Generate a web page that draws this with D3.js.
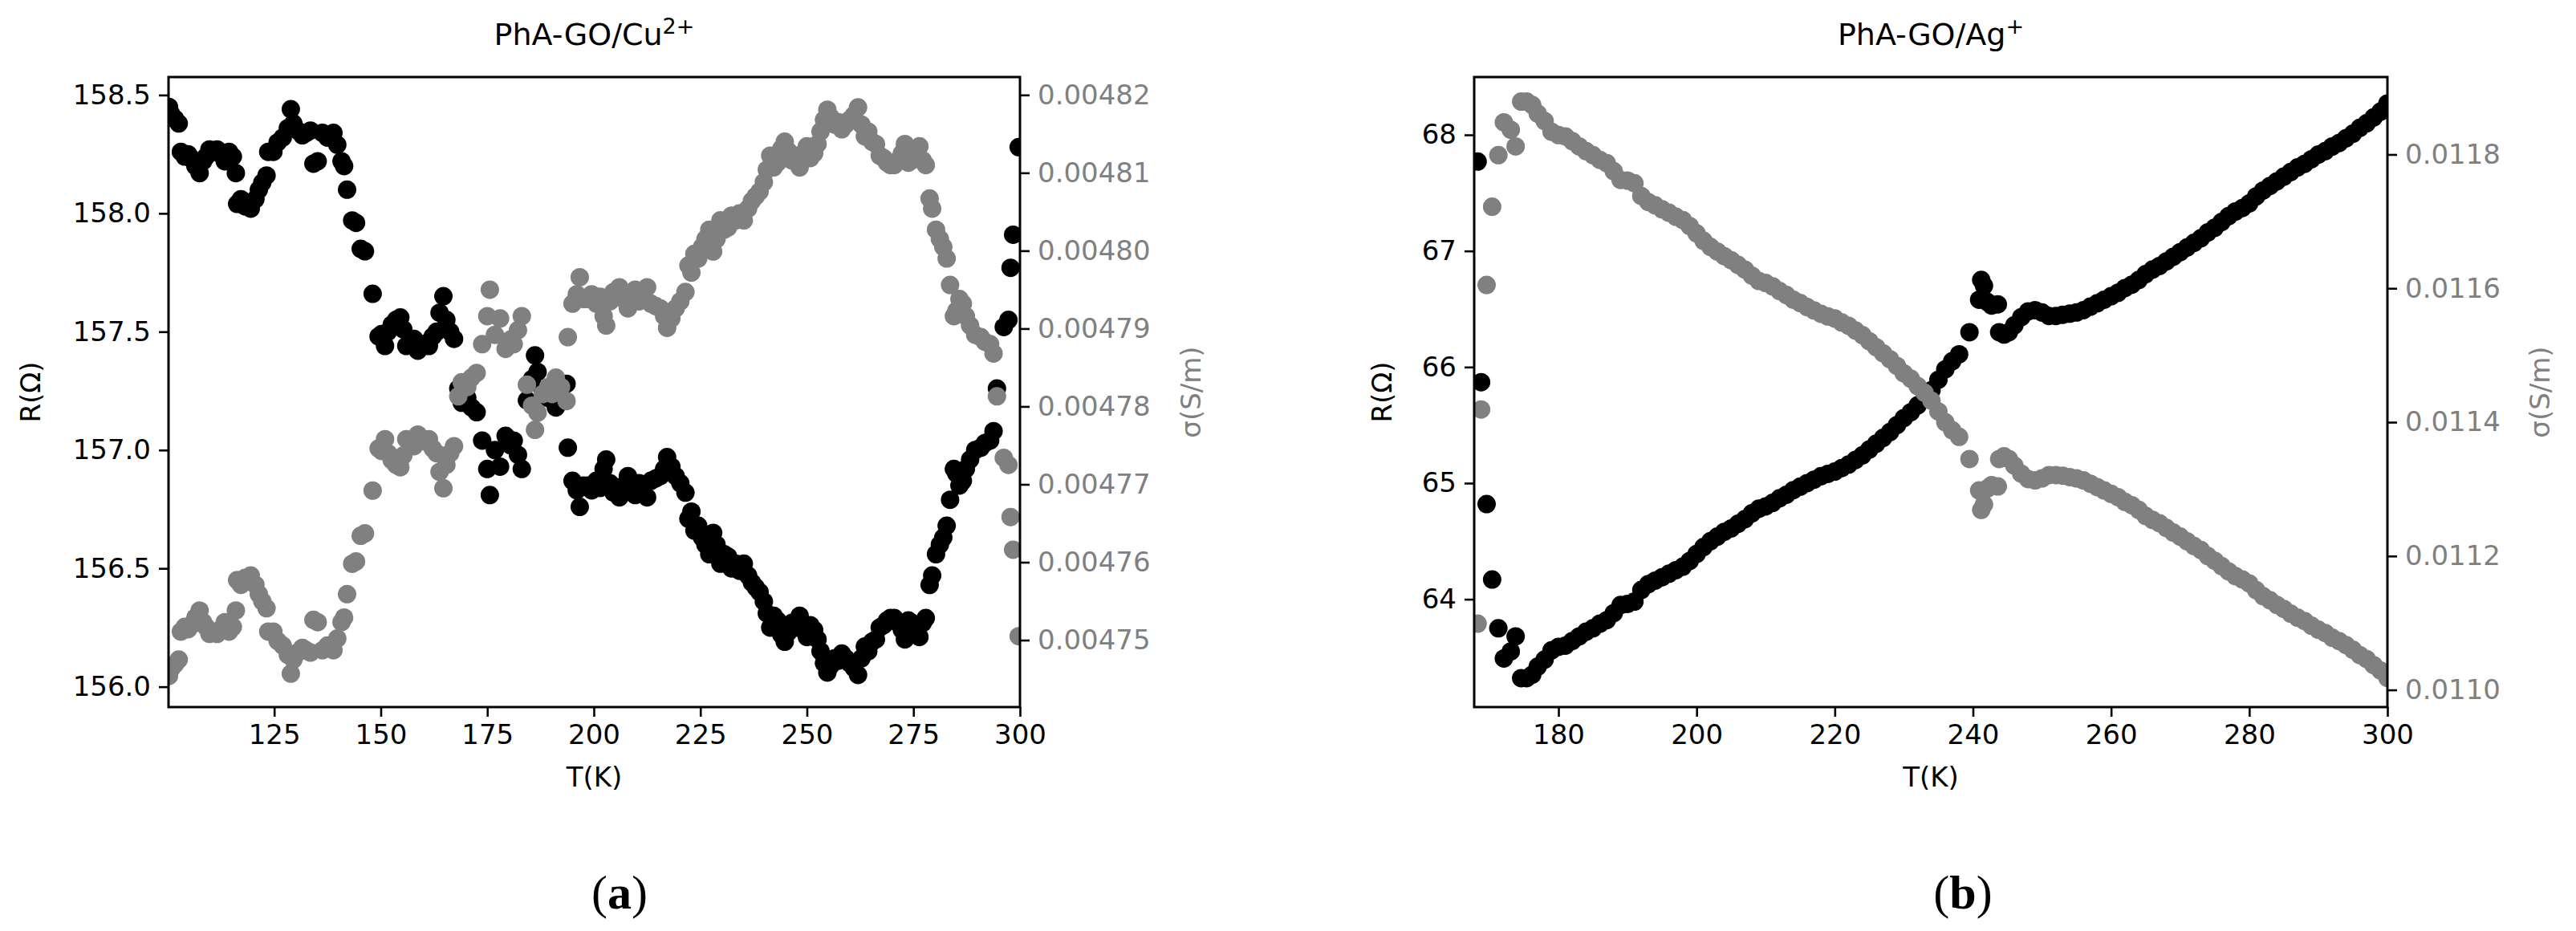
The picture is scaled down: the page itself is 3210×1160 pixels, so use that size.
<!DOCTYPE html>
<html lang="en">
<head>
<meta charset="UTF-8">
<title>PhA-GO R and sigma vs T</title>
<style>
  body { margin: 0; background: #fff; }
  svg { display: block; background: #fff; }
  text { font-family: "DejaVu Sans", sans-serif; }
  .caption { font-family: "Liberation Serif", serif; }
</style>
</head>
<body>
<svg width="3210" height="1160"></svg>
<script src="https://d3js.org/d3.v7.min.js"></script>
<script>
// ---- panel (a) : PhA-GO/Cu2+ ----
const tempA = [100.3,100.8,101.7,102.6,103.1,104.0,104.8,105.7,106.5,107.5,108.3,109.0,109.8,110.7,111.6,112.5,113.4,114.4,115.3,116.0,
  116.3,117.2,118.2,119.5,120.6,121.4,122.2,123.2,123.6,124.8,125.8,127.0,128.2,128.9,129.5,130.5,131.6,132.5,133.5,134.2,
  135.2,136.3,137.5,138.9,139.8,140.8,141.4,142.1,143.3,144.2,145.3,146.3,148.1,149.5,150.2,151.0,151.7,152.6,153.6,154.6,
  155.3,156.0,157.0,157.8,158.7,159.6,160.5,161.3,162.2,163.1,163.8,164.7,165.4,166.3,167.2,168.2,169.0,170.3,171.3,172.5,
  173.8,175.0,175.6,176.8,178.0,179.3,180.5,181.2,182.2,183.1,184.3,185.5,186.2,186.8,188.0,189.3,190.2,191.1,192.3,193.6,
  193.9,195.0,196.0,196.7,197.6,198.6,199.5,200.6,201.5,202.3,202.9,203.8,204.6,205.3,206.0,207.0,208.0,209.0,209.7,210.6,
  211.6,212.5,213.4,214.5,215.6,216.5,217.2,218.2,219.2,220.3,221.5,222.2,222.9,223.6,224.5,225.4,226.2,227.1,228.0,228.8,
  229.7,230.6,231.5,232.3,233.3,234.2,235.2,236.2,237.1,238.0,238.9,239.9,240.6,241.4,242.2,243.1,244.0,244.8,245.6,246.5,
  247.3,248.3,249.1,250.0,250.8,251.7,252.5,253.2,254.0,254.8,255.6,256.5,257.4,258.2,259.1,260.0,261.0,262.0,262.8,263.6,
  264.4,265.3,266.2,267.1,268.0,268.8,269.6,270.5,271.4,272.3,273.0,273.8,274.6,275.5,276.4,277.2,277.9,278.8,279.4,280.3,
  281.2,282.0,282.8,283.6,284.5,285.1,285.8,286.6,287.3,288.3,289.5,290.8,291.8,293.0,293.8,294.6,296.2,297.3,297.8,298.4,
  299.7];
const resA = [158.45,158.42,158.40,158.38,158.26,158.24,158.25,158.23,158.20,158.17,158.22,158.24,158.27,158.26,158.27,158.25,158.22,158.26,158.24,158.17,
  158.04,158.06,158.03,158.02,158.06,158.10,158.13,158.16,158.26,158.26,158.30,158.32,158.36,158.44,158.38,158.35,158.33,158.34,158.35,158.21,
  158.22,158.34,158.32,158.34,158.29,158.22,158.20,158.10,157.97,157.96,157.85,157.84,157.66,157.48,157.49,157.44,157.50,157.53,157.55,157.56,
  157.51,157.44,157.46,157.47,157.42,157.44,157.45,157.44,157.48,157.50,157.58,157.65,157.55,157.50,157.47,157.26,157.20,157.22,157.18,157.16,
  157.04,156.92,156.81,157.00,156.93,157.06,157.02,157.04,156.98,156.92,157.21,157.30,157.40,157.33,157.25,157.22,157.25,157.18,157.22,157.28,
  157.01,156.87,156.83,156.76,156.85,156.85,156.83,156.87,156.84,156.92,156.96,156.86,156.82,156.84,156.80,156.85,156.89,156.83,156.81,156.86,
  156.85,156.80,156.87,156.88,156.89,156.92,156.97,156.93,156.89,156.86,156.82,156.71,156.74,156.66,156.68,156.63,156.60,156.56,156.65,156.60,
  156.52,156.56,156.55,156.50,156.52,156.49,156.52,156.47,156.44,156.42,156.40,156.36,156.31,156.25,156.30,156.28,156.22,156.19,156.23,156.27,
  156.25,156.30,156.24,156.21,156.26,156.24,156.20,156.15,156.10,156.06,156.09,156.12,156.11,156.14,156.12,156.10,156.08,156.05,156.12,156.17,
  156.15,156.19,156.20,156.25,156.26,156.28,156.29,156.29,156.27,156.24,156.20,156.28,156.27,156.24,156.21,156.27,156.29,156.43,156.47,156.56,
  156.60,156.63,156.68,156.79,156.92,156.90,156.85,156.87,156.92,156.96,157.00,157.01,157.03,157.04,157.08,157.26,157.52,157.55,157.77,157.91,
  158.28];
const sigA = [0.0047454,0.0047463,0.0047469,0.0047475,0.0047511,0.0047517,0.0047514,0.0047520,0.0047529,0.0047538,0.0047523,0.0047517,0.0047508,0.0047511,0.0047508,0.0047514,0.0047523,0.0047511,0.0047517,0.0047538,
  0.0047577,0.0047571,0.0047580,0.0047583,0.0047571,0.0047559,0.0047550,0.0047541,0.0047511,0.0047511,0.0047499,0.0047493,0.0047481,0.0047457,0.0047475,0.0047484,0.0047490,0.0047487,0.0047484,0.0047526,
  0.0047523,0.0047487,0.0047493,0.0047487,0.0047502,0.0047523,0.0047529,0.0047559,0.0047598,0.0047601,0.0047634,0.0047637,0.0047692,0.0047746,0.0047743,0.0047758,0.0047740,0.0047731,0.0047725,0.0047722,
  0.0047737,0.0047758,0.0047752,0.0047749,0.0047764,0.0047758,0.0047755,0.0047758,0.0047746,0.0047740,0.0047716,0.0047695,0.0047725,0.0047740,0.0047749,0.0047813,0.0047831,0.0047825,0.0047837,0.0047843,
  0.0047880,0.0047916,0.0047950,0.0047892,0.0047913,0.0047874,0.0047886,0.0047880,0.0047898,0.0047916,0.0047828,0.0047801,0.0047770,0.0047792,0.0047816,0.0047825,0.0047816,0.0047837,0.0047825,0.0047807,
  0.0047889,0.0047932,0.0047944,0.0047966,0.0047938,0.0047938,0.0047944,0.0047932,0.0047941,0.0047916,0.0047904,0.0047935,0.0047947,0.0047941,0.0047953,0.0047938,0.0047926,0.0047944,0.0047950,0.0047935,
  0.0047938,0.0047953,0.0047932,0.0047929,0.0047926,0.0047916,0.0047901,0.0047913,0.0047926,0.0047935,0.0047947,0.0047981,0.0047972,0.0047996,0.0047990,0.0048005,0.0048015,0.0048027,0.0047999,0.0048015,
  0.0048039,0.0048027,0.0048030,0.0048045,0.0048039,0.0048048,0.0048039,0.0048054,0.0048064,0.0048070,0.0048076,0.0048088,0.0048104,0.0048122,0.0048107,0.0048113,0.0048131,0.0048140,0.0048128,0.0048116,
  0.0048122,0.0048107,0.0048125,0.0048134,0.0048119,0.0048125,0.0048137,0.0048153,0.0048168,0.0048181,0.0048171,0.0048162,0.0048165,0.0048156,0.0048162,0.0048168,0.0048174,0.0048184,0.0048162,0.0048147,
  0.0048153,0.0048140,0.0048137,0.0048122,0.0048119,0.0048113,0.0048110,0.0048110,0.0048116,0.0048125,0.0048137,0.0048113,0.0048116,0.0048125,0.0048134,0.0048116,0.0048110,0.0048067,0.0048054,0.0048027,
  0.0048015,0.0048005,0.0047990,0.0047956,0.0047916,0.0047923,0.0047938,0.0047932,0.0047916,0.0047904,0.0047892,0.0047889,0.0047883,0.0047880,0.0047868,0.0047813,0.0047734,0.0047725,0.0047658,0.0047616,
  0.0047505];

// ---- panel (b) : PhA-GO/Ag+ ----
const tempB = [168.3,168.8,169.6,170.4,171.3,172.1,173.1,173.8,174.6,175.4,176.2,
  177,178,179,180,181,182,183,184,185,186,187,188,189,190,191,192,193,194,195,196,197,198,199,200,
  201,202,203,204,205,206,207,208,209,210,211,212,213,214,215,216,217,218,219,220,
  221,222,223,224,225,226,227,228,229,230,231,232,233,234,235,236,237,238,
  239.5,240.9,241.2,241.6,242.1,242.7,243.6,243.8,244.5,245.2,
  246,247,248,249,250,251,252,253,254,255,256,257,258,259,260,261,262,263,264,265,266,267,268,269,270,
  271,272,273,274,275,276,277,278,279,280,281,282,283,284,285,286,287,288,289,290,
  291,292,293,294,295,296,297,298,299,300];
const resB = [67.77,65.87,64.82,64.17,63.75,63.49,63.55,63.68,63.32,63.32,63.35,
  63.42,63.48,63.56,63.59,63.60,63.64,63.68,63.72,63.75,63.79,63.82,63.88,63.95,63.96,63.98,64.08,64.13,64.16,64.19,64.22,64.25,64.28,64.33,64.39,
  64.45,64.50,64.54,64.58,64.61,64.65,64.69,64.74,64.78,64.80,64.83,64.87,64.90,64.94,64.97,65.00,65.03,65.06,65.08,65.10,
  65.13,65.16,65.20,65.24,65.29,65.34,65.39,65.44,65.50,65.56,65.61,65.67,65.73,65.80,65.89,65.98,66.05,66.11,
  66.30,66.58,66.75,66.70,66.56,66.53,66.54,66.30,66.28,66.30,
  66.36,66.43,66.48,66.49,66.47,66.44,66.44,66.45,66.46,66.47,66.49,66.52,66.55,66.58,66.61,66.64,66.68,66.71,66.75,66.80,66.84,66.87,66.91,66.95,66.99,
  67.03,67.07,67.11,67.16,67.20,67.25,67.30,67.34,67.37,67.41,67.47,67.52,67.56,67.60,67.64,67.68,67.72,67.75,67.79,67.83,
  67.86,67.90,67.93,67.97,68.01,68.06,68.10,68.15,68.20,68.27];
const sigB = [0.011099,0.011419,0.011605,0.011722,0.011799,0.011848,0.011837,0.011812,0.011879,0.011879,0.011874,
  0.011861,0.011850,0.011834,0.011829,0.011827,0.011820,0.011812,0.011805,0.011799,0.011792,0.011787,0.011775,0.011762,0.011761,0.011757,0.011738,0.011729,0.011724,0.011718,0.011713,0.011707,0.011702,0.011693,0.011682,
  0.011671,0.011662,0.011655,0.011648,0.011642,0.011635,0.011628,0.011619,0.011611,0.011608,0.011603,0.011596,0.011590,0.011583,0.011578,0.011572,0.011567,0.011562,0.011558,0.011555,
  0.011549,0.011544,0.011537,0.011530,0.011521,0.011512,0.011503,0.011494,0.011484,0.011473,0.011465,0.011454,0.011444,0.011432,0.011416,0.011400,0.011388,0.011378,
  0.011345,0.011298,0.011269,0.011277,0.011301,0.011306,0.011304,0.011345,0.011349,0.011345,
  0.011335,0.011323,0.011315,0.011313,0.011316,0.011321,0.011321,0.011320,0.011318,0.011316,0.011313,0.011308,0.011303,0.011298,0.011293,0.011288,0.011281,0.011276,0.011269,0.011260,0.011254,0.011249,0.011242,0.011235,0.011229,
  0.011222,0.011215,0.011209,0.011200,0.011193,0.011185,0.011177,0.011170,0.011165,0.011159,0.011149,0.011140,0.011134,0.011127,0.011121,0.011114,0.011108,0.011103,0.011096,0.011090,
  0.011085,0.011078,0.011073,0.011067,0.011060,0.011052,0.011046,0.011037,0.011029,0.011018];

// ticks
const xTicksA = [125, 150, 175, 200, 225, 250, 275, 300];
const rTicksA = [156.0, 156.5, 157.0, 157.5, 158.0, 158.5];
const sTicksA = [0.00475, 0.00476, 0.00477, 0.00478, 0.00479, 0.00480, 0.00481, 0.00482];
const xTicksB = [180, 200, 220, 240, 260, 280, 300];
const rTicksB = [64, 65, 66, 67, 68];
const sTicksB = [0.0110, 0.0112, 0.0114, 0.0116, 0.0118];

const panels = [
  { id: "a", title: "PhA-GO/Cu", sup: "2+", t: tempA, r: resA, s: sigA,
    left: 210, right: 1271, top: 96, bottom: 881,
    xDom: [100.2, 300], rDom: [155.914, 158.576], sDom: [0.0047414, 0.0048223],
    xTicks: xTicksA, rTicks: rTicksA, sTicks: sTicksA, rFmt: ".1f", sFmt: ".5f",
    rLabelX: 38, sLabelX: 1484, capX: 772 },
  { id: "b", title: "PhA-GO/Ag", sup: "+", t: tempB, r: resB, s: sigB,
    left: 1837, right: 2975, top: 96, bottom: 881,
    xDom: [167.8, 300], rDom: [63.071, 68.498], sDom: [0.0109743, 0.0119157],
    xTicks: xTicksB, rTicks: rTicksB, sTicks: sTicksB, rFmt: "d", sFmt: ".4f",
    rLabelX: 1722, sLabelX: 3165, capX: 2446 }
];

const svg = d3.select("svg");
const dotR = 11.5;

panels.forEach(p => {
  const g = svg.append("g");
  const x = d3.scaleLinear().domain(p.xDom).range([p.left, p.right]);
  const yR = d3.scaleLinear().domain(p.rDom).range([p.bottom, p.top]);
  const yS = d3.scaleLinear().domain(p.sDom).range([p.bottom, p.top]);

  g.append("clipPath").attr("id", "clip-" + p.id)
    .append("rect")
    .attr("x", p.left).attr("y", p.top)
    .attr("width", p.right - p.left).attr("height", p.bottom - p.top);

  const pts = p.t.map((t, i) => ({ t: t, r: p.r[i], s: p.s[i] }));
  const plot = g.append("g").attr("clip-path", "url(#clip-" + p.id + ")");

  plot.selectAll("circle.res")
    .data(pts)
    .join("circle")
    .attr("class", "res")
    .attr("cx", d => x(d.t))
    .attr("cy", d => yR(d.r))
    .attr("r", dotR)
    .attr("fill", "#000");

  plot.selectAll("circle.sig")
    .data(pts)
    .join("circle")
    .attr("class", "sig")
    .attr("cx", d => x(d.t))
    .attr("cy", d => yS(d.s))
    .attr("r", dotR)
    .attr("fill", "#808080");

  // axes
  const styleAxis = (sel, color) => {
    sel.select(".domain").remove();
    sel.selectAll(".tick line").attr("stroke", "#000").attr("stroke-width", 2.6);
    sel.selectAll(".tick text")
      .attr("fill", color)
      .style("font-family", "'DejaVu Sans', sans-serif")
      .style("font-size", "34px");
  };

  g.append("g")
    .attr("transform", `translate(0,${p.bottom})`)
    .call(d3.axisBottom(x).tickValues(p.xTicks).tickFormat(d3.format("d")).tickSize(12).tickPadding(10))
    .call(s => styleAxis(s, "#000"));

  g.append("g")
    .attr("transform", `translate(${p.left},0)`)
    .call(d3.axisLeft(yR).tickValues(p.rTicks).tickFormat(d3.format(p.rFmt)).tickSize(12).tickPadding(10))
    .call(s => styleAxis(s, "#000"));

  g.append("g")
    .attr("transform", `translate(${p.right},0)`)
    .call(d3.axisRight(yS).tickValues(p.sTicks).tickFormat(d3.format(p.sFmt)).tickSize(12).tickPadding(10))
    .call(s => styleAxis(s, "#808080"));

  // frame
  g.append("rect")
    .attr("x", p.left).attr("y", p.top)
    .attr("width", p.right - p.left).attr("height", p.bottom - p.top)
    .attr("fill", "none").attr("stroke", "#000").attr("stroke-width", 3);

  const cx = (p.left + p.right) / 2;

  // title
  const title = g.append("text")
    .attr("x", cx).attr("y", 56)
    .attr("text-anchor", "middle")
    .style("font-size", "38px")
    .text(p.title);
  title.append("tspan")
    .attr("dy", -14)
    .style("font-size", "27px")
    .text(p.sup);

  // axis labels
  g.append("text")
    .attr("x", cx).attr("y", 980)
    .attr("text-anchor", "middle")
    .style("font-size", "34px")
    .text("T(K)");

  g.append("text")
    .attr("transform", `translate(${p.rLabelX},${(p.top + p.bottom) / 2}) rotate(-90)`)
    .attr("text-anchor", "middle")
    .attr("dy", "0.35em")
    .style("font-size", "34px")
    .text("R(Ω)");

  g.append("text")
    .attr("transform", `translate(${p.sLabelX},${(p.top + p.bottom) / 2}) rotate(-90)`)
    .attr("text-anchor", "middle")
    .attr("dy", "0.35em")
    .attr("fill", "#808080")
    .style("font-size", "34px")
    .text("σ(S/m)");

  // caption
  const cap = svg.append("text")
    .attr("class", "caption")
    .attr("x", p.capX).attr("y", 1132)
    .attr("text-anchor", "middle")
    .style("font-size", "60px");
  cap.append("tspan").text("(");
  cap.append("tspan").style("font-weight", "bold").text(p.id);
  cap.append("tspan").text(")");
});
</script>
</body>
</html>
